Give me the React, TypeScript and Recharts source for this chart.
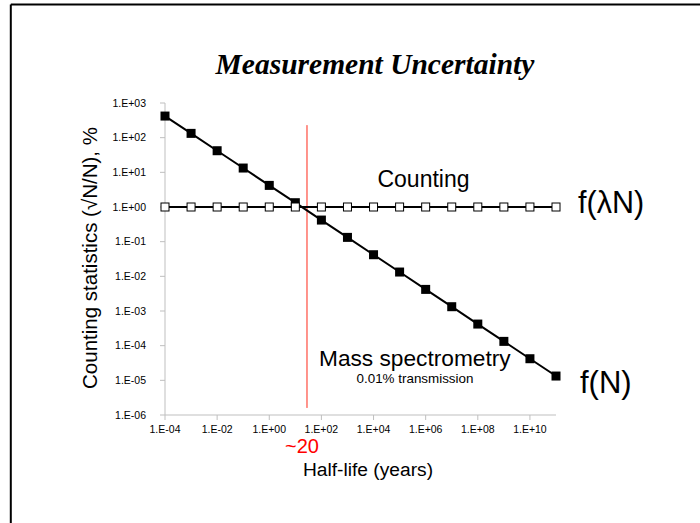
import React from 'react';
import { LineChart, Line, XAxis, YAxis, ReferenceLine } from 'recharts';

const halfLives = [1e-4, 1e-3, 1e-2, 1e-1, 1e0, 1e1, 1e2, 1e3, 1e4, 1e5, 1e6, 1e7, 1e8, 1e9, 1e10, 1e11];
const massSpec = [420, 133, 42, 13.3, 4.2, 1.33, 0.42, 0.133, 0.042, 0.0133, 0.0042, 0.00133, 0.00042, 0.000133, 0.000042, 0.0000133];
const counting = [1, 1, 1, 1, 1, 1, 1, 1, 1, 1, 1, 1, 1, 1, 1, 1];
const xTicks = [1e-4, 1e-2, 1e0, 1e2, 1e4, 1e6, 1e8, 1e10];
const yTicks = [1e-6, 1e-5, 1e-4, 1e-3, 1e-2, 1e-1, 1e0, 1e1, 1e2, 1e3];
const crossoverX = 28;
const crossoverTop = 230;
const crossoverBottom = 1.6e-6;

const data = halfLives.map((x, i) => ({ x, mass: massSpec[i], counting: counting[i] }));

const fmt = (v: number) => {
  const e = Math.round(Math.log10(v));
  const s = e < 0 ? '-' : '+';
  const a = Math.abs(e);
  return '1.E' + s + (a < 10 ? '0' + a : '' + a);
};

const FONT = '"Liberation Sans", Arial, sans-serif';

const FilledSquare = (props: any) => {
  const { cx, cy, index } = props;
  if (cx == null || cy == null) return <g key={'f' + index} />;
  return <rect key={'f' + index} x={cx - 4.5} y={cy - 4.5} width={9} height={9} fill="#000" />;
};

const OpenSquare = (props: any) => {
  const { cx, cy, index } = props;
  if (cx == null || cy == null) return <g key={'o' + index} />;
  return <rect key={'o' + index} x={cx - 4} y={cy - 4} width={8} height={8} fill="#fff" stroke="#000" strokeWidth={1} />;
};

export default function App() {
  return (
    <div style={{ position: 'absolute', left: 0, top: 0, width: 700, height: 523, background: '#fff' }}>
      <LineChart
        width={700}
        height={523}
        data={data}
        margin={{ top: 103, right: 144, bottom: 78, left: 0 }}
      >
        <XAxis
          dataKey="x"
          type="number"
          scale="log"
          domain={[1e-4, 1e11]}
          ticks={xTicks}
          tickFormatter={fmt}
          height={30}
          stroke="#bfbfbf"
          tickSize={5}
          tickMargin={6}
          tick={{ fill: '#000', fontSize: 10.5, fontFamily: FONT }}
        />
        <YAxis
          type="number"
          scale="log"
          domain={[1e-6, 1e3]}
          ticks={yTicks}
          tickFormatter={fmt}
          width={165}
          stroke="#bfbfbf"
          tickSize={5}
          tickMargin={14}
          tick={{ fill: '#000', fontSize: 10.5, fontFamily: FONT }}
        />
        <ReferenceLine
          segment={[{ x: crossoverX, y: crossoverTop }, { x: crossoverX, y: crossoverBottom }]}
          stroke="#ff2a1a"
          strokeWidth={1}
          ifOverflow="visible"
        />
        <Line
          dataKey="mass"
          stroke="#000"
          strokeWidth={2}
          isAnimationActive={false}
          dot={FilledSquare}
          activeDot={false}
        />
        <Line
          dataKey="counting"
          stroke="#000"
          strokeWidth={2}
          isAnimationActive={false}
          dot={OpenSquare}
          activeDot={false}
        />
      </LineChart>
      <svg
        width={700}
        height={523}
        style={{ position: 'absolute', left: 0, top: 0, pointerEvents: 'none' }}
      >
        <line x1={10.8} y1={4.5} x2={700} y2={4.5} stroke="#000" strokeWidth={2} />
        <line x1={10.8} y1={4.5} x2={10.8} y2={523} stroke="#000" strokeWidth={2} />
        <text x={375} y={74} textAnchor="middle" fontFamily='"Liberation Serif", "Times New Roman", serif' fontWeight="bold" fontStyle="italic" fontSize={29.5} fill="#000">
          Measurement Uncertainty
        </text>
        <text x={423.5} y={187} textAnchor="middle" fontFamily={FONT} fontSize={23} fill="#000">Counting</text>
        <text x={578} y={213} textAnchor="start" fontFamily={FONT} fontSize={30.5} fill="#000">f(λN)</text>
        <text x={319} y={366} textAnchor="start" fontFamily={FONT} fontSize={22.7} fill="#000">Mass spectrometry</text>
        <text x={415} y={383} textAnchor="middle" fontFamily={FONT} fontSize={13.4} fill="#000">0.01% transmission</text>
        <text x={580} y={393} textAnchor="start" fontFamily={FONT} fontSize={31} fill="#000">f(N)</text>
        <text x={302} y={453} textAnchor="middle" fontFamily={FONT} fontSize={20} fill="#ff0000">~20</text>
        <text x={368} y={476} textAnchor="middle" fontFamily={FONT} fontSize={19.2} fill="#000">Half-life (years)</text>
        <text
          x={0}
          y={0}
          transform="translate(97 258) rotate(-90)"
          textAnchor="middle"
          fontFamily={FONT}
          fontSize={20.5}
          fill="#000"
        >
          Counting statistics (√N/N), %
        </text>
      </svg>
    </div>
  );
}
